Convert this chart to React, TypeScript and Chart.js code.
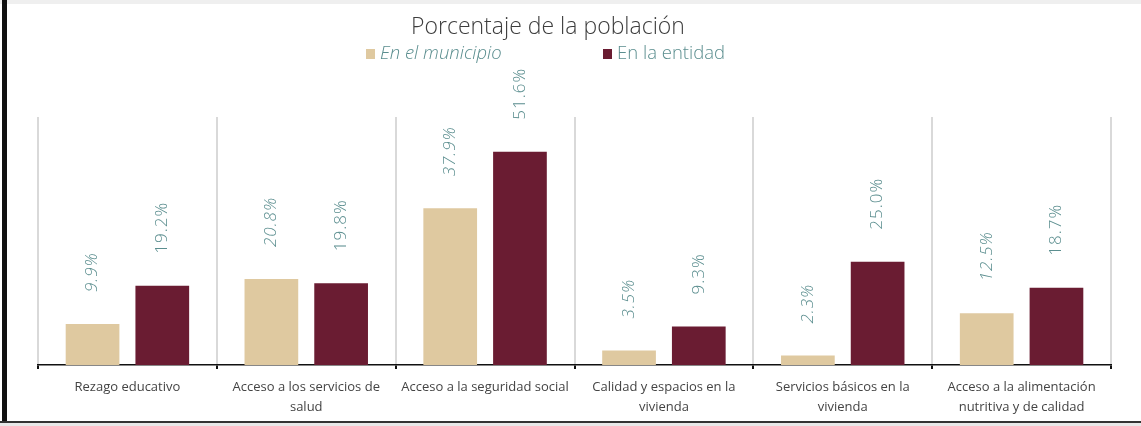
import React, { useEffect, useRef } from "react";
import { Chart, registerables } from "chart.js";

Chart.register(...registerables);

const titleText = "Porcentaje de la población";
const seriesNames = ["En el municipio", "En la entidad"];
const categories: (string | string[])[] = [
  "Rezago educativo",
  ["Acceso a los servicios de", "salud"],
  "Acceso a la seguridad social",
  ["Calidad y espacios en la", "vivienda"],
  ["Servicios básicos en la", "vivienda"],
  ["Acceso a la alimentación", "nutritiva y de calidad"],
];
const municipio = [9.9, 20.8, 37.9, 3.5, 2.3, 12.5];
const entidad = [19.2, 19.8, 51.6, 9.3, 25.0, 18.7];

const BEIGE = "#dfc9a0";
const MAROON = "#6a1c32";
const TEAL = "#5b8e8f";
const FONT = "'Open Sans', 'Noto Sans', sans-serif";

const framePlugin = {
  id: "frame",
  beforeDraw(chart: any) {
    const { ctx, width, height } = chart;
    ctx.save();
    ctx.fillStyle = "#ffffff";
    ctx.fillRect(0, 0, width, height);
    ctx.fillStyle = "#efefef";
    ctx.fillRect(0, 0, width, 4);
    ctx.restore();
  },
  afterDraw(chart: any) {
    const { ctx, width, height } = chart;
    ctx.save();
    ctx.fillStyle = "#111111";
    ctx.fillRect(2, 0, 5, height);
    ctx.fillStyle = "#333333";
    ctx.fillRect(0, height - 5, width, 2);
    ctx.fillStyle = "#e8e8e8";
    ctx.fillRect(0, height - 3, width, 3);
    ctx.restore();
  },
};

const headerPlugin = {
  id: "header",
  afterDraw(chart: any) {
    const { ctx } = chart;
    const cx = 548;
    ctx.save();
    ctx.font = `300 23px ${FONT}`;
    ctx.fillStyle = "#3d3d3d";
    ctx.textAlign = "center";
    ctx.textBaseline = "middle";
    ctx.fillText(titleText, cx, 27);

    const items = [
      { text: seriesNames[0], color: BEIGE, italic: true },
      { text: seriesNames[1], color: MAROON, italic: false },
    ];
    const starts = [366, 603];
    items.forEach((it, i) => {
      const x = starts[i];
      ctx.fillStyle = it.color;
      ctx.fillRect(x, 49, 9, 10);
      ctx.font = `${it.italic ? "italic " : ""}300 18.5px ${FONT}`;
      ctx.fillStyle = TEAL;
      ctx.textAlign = "left";
      ctx.textBaseline = "middle";
      ctx.fillText(it.text, x + 14, 54);
    });
    ctx.restore();
  },
};

const valueLabelPlugin = {
  id: "valueLabels",
  afterDatasetsDraw(chart: any) {
    const { ctx } = chart;
    ctx.save();
    chart.data.datasets.forEach((ds: any, di: number) => {
      const meta = chart.getDatasetMeta(di);
      meta.data.forEach((bar: any, i: number) => {
        const v = ds.data[i] as number;
        ctx.save();
        ctx.translate(bar.x, bar.y - 32);
        ctx.rotate(-Math.PI / 2);
        ctx.font = `${di === 0 ? "italic " : ""}300 17px ${FONT}`;
        (ctx as any).letterSpacing = "1px";
        ctx.fillStyle = TEAL;
        ctx.textAlign = "left";
        ctx.textBaseline = "middle";
        ctx.fillText(v.toFixed(1) + "%", 0, 0);
        ctx.restore();
      });
    });
    ctx.restore();
  },
};

export default function App() {
  const ref = useRef<HTMLCanvasElement | null>(null);
  useEffect(() => {
    if (!ref.current) return;
    const chart = new Chart(ref.current, {
      type: "bar",
      data: {
        labels: categories as any,
        datasets: [
          {
            label: seriesNames[0],
            data: municipio,
            backgroundColor: BEIGE,
            categoryPercentage: 0.78,
            barPercentage: 0.77,
          },
          {
            label: seriesNames[1],
            data: entidad,
            backgroundColor: MAROON,
            categoryPercentage: 0.78,
            barPercentage: 0.77,
          },
        ],
      },
      options: {
        responsive: false,
        animation: false,
        layout: { padding: { top: 117, left: 38, right: 30, bottom: 4 } },
        plugins: {
          legend: { display: false },
          title: { display: false },
          tooltip: { enabled: false },
        },
        scales: {
          y: { display: false, min: 0, max: 60 },
          x: {
            grid: {
              display: true,
              offset: true,
              color: "#d9d9d9",
              lineWidth: 2,
              tickColor: "#111111",
              tickLength: 4,
            },
            border: { display: true, color: "#111111", width: 1.5 },
            ticks: {
              color: "#444444",
              padding: 8,
              maxRotation: 0,
              autoSkip: false,
              font: { family: FONT, size: 13, weight: 400 as any, lineHeight: 1.55 },
            },
            afterFit: (s: any) => {
              s.height = 57;
            },
          },
        },
      },
      plugins: [framePlugin, headerPlugin, valueLabelPlugin],
    });
    return () => chart.destroy();
  }, []);
  return (
    <div style={{ position: "fixed", top: 0, left: 0, width: 1141, height: 426 }}>
      <canvas ref={ref} width={1141} height={426} />
    </div>
  );
}
